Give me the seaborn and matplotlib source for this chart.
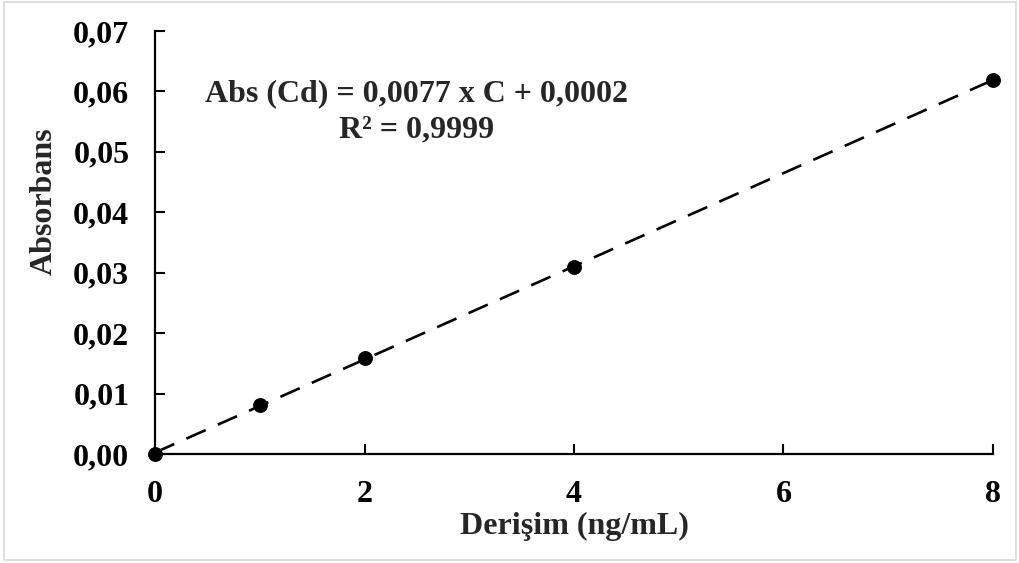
import numpy as np
import pandas as pd
import matplotlib
matplotlib.use('Agg')
import matplotlib.pyplot as plt
import seaborn as sns
from matplotlib.patches import Rectangle

# calibration points
conc = [0, 1, 2, 4, 8]
absorb = [0.0, 0.0081, 0.0159, 0.0309, 0.0619]
df = pd.DataFrame({'conc': conc, 'abs': absorb})

sns.set_style('white')
plt.rcParams['font.family'] = ['Liberation Serif', 'DejaVu Serif']
plt.rcParams['font.weight'] = 'bold'

fig = plt.figure(figsize=(10.2, 5.63), dpi=100)
ax = fig.add_axes([0.152, 0.1936, 0.8215, 0.7513])

# trend line (linear fit) dashed
sns.regplot(x='conc', y='abs', data=df, ci=None, scatter=False, ax=ax,
            line_kws={'color': 'black', 'lw': 1.9, 'dashes': (8, 5)})
sns.scatterplot(x='conc', y='abs', data=df, ax=ax, color='black', s=115,
                edgecolor='black', linewidth=0, zorder=5, clip_on=False)

ax.set_xlim(0, 8)
ax.set_ylim(0, 0.07)
ax.set_xticks([0, 2, 4, 6, 8])
yt = np.arange(0, 0.071, 0.01)
ax.set_yticks(yt)
ax.set_yticklabels([f'{v:.2f}'.replace('.', ',') for v in yt])
ax.tick_params(direction='in', length=7, width=1.5, labelsize=23,
               colors='black', bottom=True, left=True)
ax.tick_params(axis='x', pad=19)
ax.tick_params(axis='y', pad=18.5)
for lab in ax.get_xticklabels() + ax.get_yticklabels():
    lab.set_fontweight('bold')

for side in ['top', 'right']:
    ax.spines[side].set_visible(False)
for side in ['left', 'bottom']:
    ax.spines[side].set_color('black')
    ax.spines[side].set_linewidth(1.6)

ax.set_xlabel('Derişim (ng/mL)', fontsize=23, fontweight='bold', va='center')
ax.set_ylabel('Absorbans', fontsize=23, fontweight='bold', va='center')
ax.xaxis.set_label_coords(0.5, -0.172)
ax.yaxis.set_label_coords(-0.132, 0.598)

ax.text(2.5, 0.0566, 'Abs (Cd) = 0,0077 x C + 0,0002\nR² = 0,9999',
        ha='center', va='center', fontsize=23, fontweight='bold',
        linespacing=1.3)

fig.patches.append(Rectangle((0.004, 0.006), 0.992, 0.99, transform=fig.transFigure,
                             fill=False, edgecolor='#d9d9d9', lw=1.2))

fig.savefig('out.png', dpi=100)
